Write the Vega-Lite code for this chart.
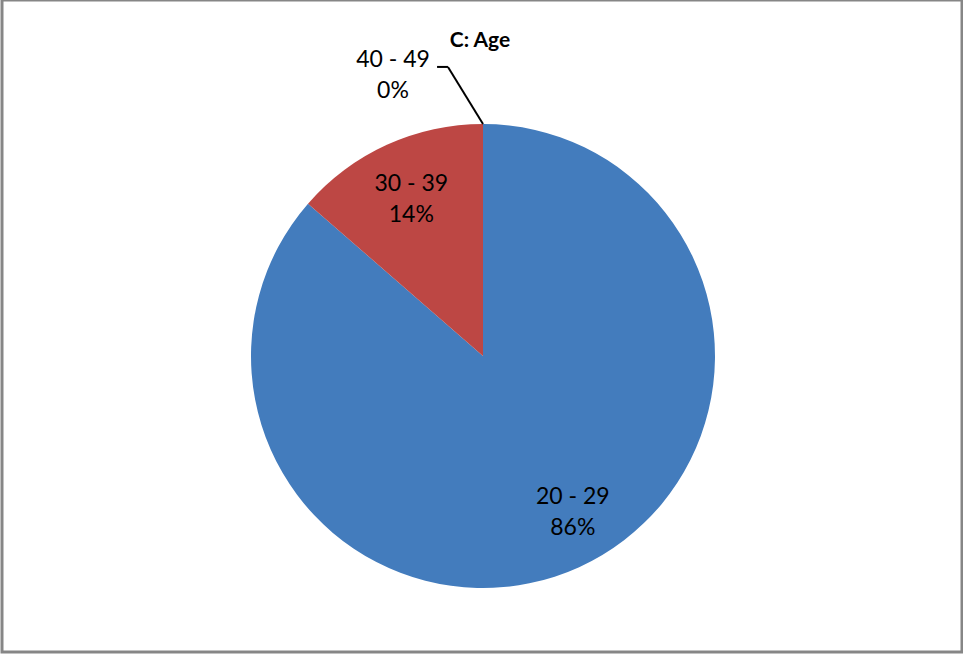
{
  "$schema": "https://vega.github.io/schema/vega-lite/v6.json",
  "width": 960,
  "height": 652,
  "autosize": "none",
  "padding": {"left": 2, "top": 0, "right": 1, "bottom": 3},
  "background": "white",
  "config": {
    "view": {"stroke": "#868686", "strokeWidth": 3},
    "font": "Lato"
  },
  "title": {
    "text": "C: Age",
    "fontSize": 21,
    "fontWeight": "bold",
    "font": "Lato",
    "color": "#000000",
    "anchor": "middle",
    "baseline": "alphabetic",
    "offset": -68,
    "dx": -2
  },
  "data": {
    "values": [
      {"age": "20 - 29", "share": 86.4, "label": "20 - 29\n86%"},
      {"age": "30 - 39", "share": 13.6, "label": "30 - 39\n14%"},
      {"age": "40 - 49", "share": 0, "label": "40 - 49\n0%"}
    ]
  },
  "encoding": {
    "x": {"datum": 0, "type": "quantitative", "scale": {"domain": [-2.0733, 2.0647], "nice": false, "zero": false}, "axis": null},
    "y": {"datum": 0, "type": "quantitative", "scale": {"domain": [-1.2759, 1.5345], "nice": false, "zero": false}, "axis": null}
  },
  "layer": [
    {
      "mark": {"type": "arc", "outerRadius": 232},
      "encoding": {
        "theta": {"field": "share", "type": "quantitative", "stack": true},
        "order": {"field": "age", "type": "ordinal"},
        "color": {
          "field": "age",
          "type": "nominal",
          "scale": {"domain": ["20 - 29", "30 - 39", "40 - 49"], "range": ["#437CBD", "#BD4744", "#98B954"]},
          "legend": null
        }
      }
    },
    {
      "transform": [{"filter": "datum.share > 0"}, {"filter": "datum.age == '20 - 29'"}],
      "mark": {"type": "text", "radius": 180, "thetaOffset": -0.095, "fontSize": 23, "lineBreak": "\n", "lineHeight": 31, "dy": -15, "color": "#000000", "align": "center", "baseline": "middle"},
      "encoding": {
        "theta": {"field": "share", "type": "quantitative", "stack": true},
        "text": {"field": "label", "type": "nominal"}
      }
    },
    {
      "transform": [{"filter": "datum.share > 0"}],
      "mark": {"type": "text", "radius": 173, "fontSize": 23, "lineBreak": "\n", "lineHeight": 31, "dy": -15, "color": "#000000", "align": "center", "baseline": "middle"},
      "encoding": {
        "theta": {"field": "share", "type": "quantitative", "stack": true},
        "order": {"field": "age", "type": "ordinal"},
        "text": {"field": "label", "type": "nominal"},
        "opacity": {"condition": {"test": "datum.age == '30 - 39'", "value": 1}, "value": 0}
      }
    },
    {
      "transform": [{"filter": "datum.age == '40 - 49'"}],
      "mark": {"type": "text", "radius": 295, "thetaOffset": -0.31, "fontSize": 23, "lineBreak": "\n", "lineHeight": 31, "dy": -15, "color": "#000000", "align": "center", "baseline": "middle"},
      "encoding": {
        "theta": {"field": "share", "type": "quantitative", "stack": true},
        "text": {"field": "label", "type": "nominal"}
      }
    },
    {
      "transform": [{"filter": "datum.age == '40 - 49'"}],
      "mark": {"type": "rule", "color": "#000000", "strokeWidth": 2},
      "encoding": {
        "x": {"datum": 0, "type": "quantitative"},
        "y": {"datum": 1.0, "type": "quantitative"},
        "x2": {"datum": -0.151},
        "y2": {"datum": 1.246}
      }
    },
    {
      "transform": [{"filter": "datum.age == '40 - 49'"}],
      "mark": {"type": "rule", "color": "#000000", "strokeWidth": 2},
      "encoding": {
        "x": {"datum": -0.151, "type": "quantitative"},
        "y": {"datum": 1.246, "type": "quantitative"},
        "x2": {"datum": -0.198},
        "y2": {"datum": 1.246}
      }
    }
  ]
}
